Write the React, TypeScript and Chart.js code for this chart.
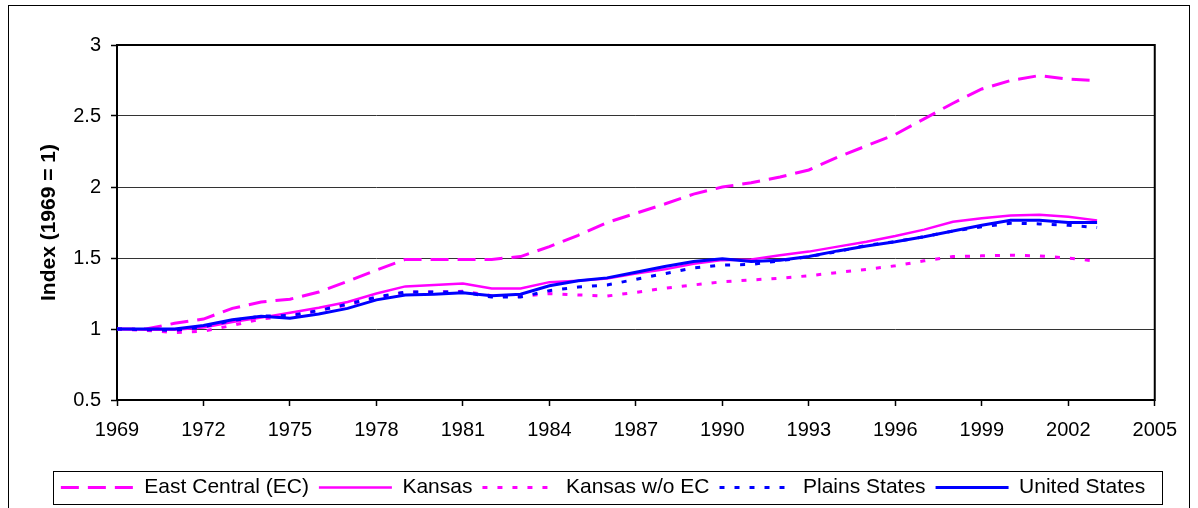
import React, { useEffect, useRef } from 'react';
import { Chart, registerables } from 'chart.js';

Chart.register(...registerables);

const years = [
  1969, 1970, 1971, 1972, 1973, 1974, 1975, 1976, 1977, 1978, 1979, 1980,
  1981, 1982, 1983, 1984, 1985, 1986, 1987, 1988, 1989, 1990, 1991, 1992,
  1993, 1994, 1995, 1996, 1997, 1998, 1999, 2000, 2001, 2002, 2003,
];

const eastCentral = [
  1.0, 1.0, 1.04, 1.07, 1.145, 1.19, 1.21, 1.26, 1.335, 1.415, 1.49, 1.49,
  1.49, 1.49, 1.51, 1.58, 1.66, 1.75, 1.815, 1.88, 1.95, 2.0, 2.03, 2.07,
  2.12, 2.21, 2.29, 2.37, 2.48, 2.59, 2.69, 2.75, 2.785, 2.76, 2.75,
];

const kansas = [
  1.0, 0.995, 0.995, 1.01, 1.05, 1.08, 1.115, 1.15, 1.19, 1.25, 1.3, 1.31,
  1.32, 1.285, 1.285, 1.33, 1.34, 1.355, 1.39, 1.42, 1.46, 1.485, 1.49, 1.52,
  1.545, 1.58, 1.615, 1.655, 1.7, 1.755, 1.78, 1.8, 1.805, 1.79, 1.765,
];

const kansasWithoutEC = [
  1.0, 0.99, 0.975, 0.985, 1.025, 1.07, 1.09, 1.13, 1.17, 1.22, 1.26, 1.26,
  1.265, 1.235, 1.23, 1.25, 1.24, 1.232, 1.258, 1.287, 1.31, 1.333, 1.345, 1.358,
  1.375, 1.398, 1.42, 1.445, 1.48, 1.51, 1.515, 1.52, 1.515, 1.5, 1.477,
];

const plainsStates = [
  1.0, 0.995, 0.99, 1.015, 1.06, 1.09, 1.095, 1.13, 1.175, 1.225, 1.26, 1.26,
  1.26, 1.225, 1.225, 1.27, 1.295, 1.31, 1.35, 1.39, 1.43, 1.45, 1.455, 1.48,
  1.51, 1.545, 1.59, 1.615, 1.65, 1.69, 1.72, 1.745, 1.74, 1.73, 1.715,
];

const unitedStates = [
  1.0, 1.0, 1.0, 1.025, 1.065, 1.09, 1.075, 1.105, 1.145, 1.205, 1.24, 1.245,
  1.255, 1.235, 1.245, 1.305, 1.34, 1.36, 1.4, 1.44, 1.475, 1.495, 1.475, 1.485,
  1.51, 1.55, 1.585, 1.615, 1.65, 1.69, 1.73, 1.765, 1.765, 1.75, 1.75,
];

const seriesLabels = ['East Central (EC)', 'Kansas', 'Kansas w/o EC', 'Plains States', 'United States'];
const seriesValues = [eastCentral, kansas, kansasWithoutEC, plainsStates, unitedStates];

const xMin = 1969;
const xMax = 2005;
const xStep = 3;
const yMin = 0.5;
const yMax = 3;
const yStep = 0.5;
const yTitle = 'Index (1969 = 1)';

const FONT = '"Liberation Sans", Arial, Helvetica, sans-serif';
const MAGENTA = '#FF00FF';
const BLUE = '#0000FF';

const seriesStyles = [
  { color: MAGENTA, width: 3, dash: [18, 9] },
  { color: MAGENTA, width: 2.5, dash: [] as number[] },
  { color: MAGENTA, width: 3, dash: [5, 10] },
  { color: BLUE, width: 3, dash: [5, 10] },
  { color: BLUE, width: 3, dash: [] as number[] },
];

const framePlugin = {
  id: 'frameAndLegendBox',
  beforeDatasetsDraw(chart: any) {
    const { ctx, chartArea: a } = chart;
    ctx.save();
    ctx.strokeStyle = '#000';
    ctx.lineWidth = 2;
    ctx.setLineDash([]);
    ctx.strokeRect(a.left, a.top, a.right - a.left, a.bottom - a.top);
    ctx.restore();
  },
  afterDraw(chart: any) {
    const lg = chart.legend;
    const hb = lg && lg.legendHitBoxes;
    if (!hb || !hb.length) return;
    const { ctx } = chart;
    const left = Math.min(...hb.map((h: any) => h.left)) - 8;
    const right = Math.max(...hb.map((h: any) => h.left + h.width)) + 17;
    const top = hb[0].top - 6;
    const bottom = hb[0].top + hb[0].height + 6;
    ctx.save();
    ctx.setLineDash([]);
    ctx.strokeStyle = '#000';
    ctx.lineWidth = 1;
    ctx.strokeRect(Math.round(left) + 0.5, Math.round(top) + 0.5, Math.round(right - left), Math.round(bottom - top));
    ctx.restore();
  },
};

export default function App() {
  const canvasRef = useRef<HTMLCanvasElement | null>(null);

  useEffect(() => {
    document.documentElement.style.overflow = 'hidden';
    const canvas = canvasRef.current;
    if (!canvas) return;

    const datasets = seriesLabels.map((label, i) => ({
      label,
      data: years.map((yr, k) => ({ x: yr, y: seriesValues[i][k] })),
      borderColor: seriesStyles[i].color,
      backgroundColor: seriesStyles[i].color,
      borderWidth: seriesStyles[i].width,
      borderDash: seriesStyles[i].dash,
      pointRadius: 0,
      pointHoverRadius: 0,
      tension: 0,
      fill: false,
      order: seriesLabels.length - 1 - i,
    }));

    const chart = new Chart(canvas, {
      type: 'line',
      data: { datasets },
      plugins: [framePlugin],
      options: {
        animation: false,
        responsive: false,
        maintainAspectRatio: false,
        events: [],
        layout: { padding: { left: 8, right: 0, top: 39, bottom: 0 } },
        plugins: {
          tooltip: { enabled: false },
          legend: {
            display: true,
            position: 'bottom',
            align: 'center',
            labels: {
              color: '#000',
              font: { family: FONT, size: 21 },
              padding: 10,
              usePointStyle: true,
              pointStyleWidth: 73,
              generateLabels: (c: any) =>
                c.data.datasets.map((ds: any, i: number) => ({
                  text: ds.label,
                  datasetIndex: i,
                  fillStyle: ds.borderColor,
                  strokeStyle: ds.borderColor,
                  lineWidth: ds.borderWidth,
                  lineDash: ds.borderDash || [],
                  lineCap: 'butt',
                  pointStyle: 'line',
                  hidden: false,
                  fontColor: '#000',
                })),
            },
          },
        },
        scales: {
          x: {
            type: 'linear',
            min: xMin,
            max: xMax,
            ticks: {
              stepSize: xStep,
              color: '#000',
              font: { family: FONT, size: 20 },
              padding: 12,
              maxRotation: 0,
              autoSkip: false,
              callback: (v: any) => String(v),
            },
            grid: {
              drawOnChartArea: false,
              drawTicks: true,
              tickLength: 6,
              tickColor: '#000',
              tickWidth: 1.5,
            },
            border: { display: false },
            afterFit: (s: any) => {
              s.height = 67;
            },
          },
          y: {
            type: 'linear',
            min: yMin,
            max: yMax,
            ticks: {
              stepSize: yStep,
              color: '#000',
              font: { family: FONT, size: 20 },
              padding: 10,
              callback: (v: any) => String(v),
            },
            grid: {
              color: '#333333',
              lineWidth: 1,
              drawTicks: true,
              tickLength: 6,
              tickColor: '#000',
              tickWidth: 1.5,
            },
            border: { display: false },
            title: {
              display: true,
              text: yTitle,
              color: '#000',
              font: { family: FONT, size: 21, weight: 'bold' },
              padding: { top: 20, bottom: 0 },
            },
            afterFit: (s: any) => {
              s.width = 100;
            },
          },
          yRight: {
            type: 'linear',
            position: 'right',
            display: true,
            grid: { display: false, drawTicks: false },
            ticks: { display: false },
            border: { display: false },
            afterFit: (s: any) => {
              s.width = 31;
            },
          },
        },
      } as any,
    });

    return () => {
      chart.destroy();
    };
  }, []);

  return (
    <div
      style={{
        position: 'absolute',
        left: 8,
        top: 5,
        border: '1px solid #000',
        width: 1180,
        height: 510,
        background: '#fff',
      }}
    >
      <canvas ref={canvasRef} width={1180} height={502} style={{ display: 'block', width: 1180, height: 502 }} />
    </div>
  );
}
